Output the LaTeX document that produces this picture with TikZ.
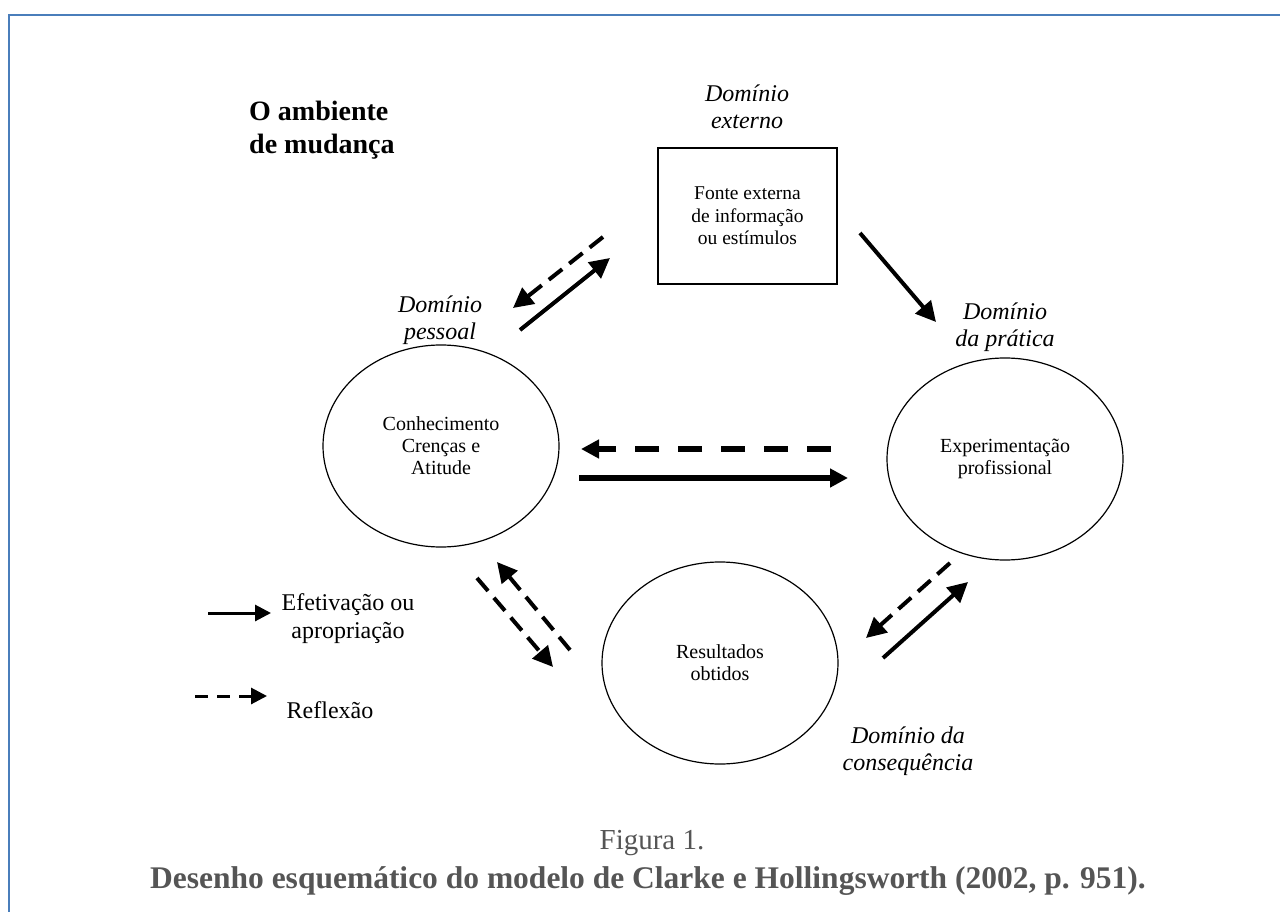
\documentclass[tikz,border=0pt]{standalone}
\usepackage{fontspec}
\setmainfont{Liberation Serif}
\usetikzlibrary{arrows.meta,shapes.geometric}
\definecolor{frameblue}{RGB}{74,126,187}
\definecolor{capgray}{RGB}{85,85,85}
\begin{document}
\begin{tikzpicture}[x=1pt,y=-1pt,
  ell/.style={draw,ellipse,line width=1.2pt,minimum width=236pt,minimum height=202pt,inner sep=0pt,align=center,font=\fontsize{20}{22}\selectfont},
  srcbox/.style={draw,rectangle,line width=1.3pt,minimum width=179pt,minimum height=136pt,inner sep=0pt,align=center,font=\fontsize{19.5}{22.5}\selectfont},
  dlabel/.style={inner sep=0pt,align=center,font=\fontsize{24}{27}\selectfont\itshape},
  legtext/.style={inner sep=0pt,align=center,font=\fontsize{24}{28}\selectfont},
  solidarr/.style={line width=4pt,-{Triangle[length=20pt,width=20pt]}},
  dasharr/.style={line width=4pt,dash pattern=on 17pt off 9pt,-{Triangle[length=20pt,width=20pt]}},
  hsolid/.style={line width=6pt,-{Triangle[length=18pt,width=18pt]}},
  hdash/.style={line width=6pt,dash pattern=on 24pt off 19pt,-{Triangle[length=18pt,width=18pt]}},
  legsolid/.style={line width=3pt,-{Triangle[length=16pt,width=16pt]}},
  legdash/.style={line width=3pt,dash pattern=on 13pt off 9pt,-{Triangle[length=16pt,width=16pt]}}
]
\useasboundingbox (0,0) rectangle (1280,912);
% frame
\draw[frameblue,line width=2.5pt] (9,912) -- (9,15) -- (1280,15);

% title
\node[anchor=west,inner sep=0pt,align=left,font=\fontsize{28}{33}\selectfont\bfseries] (title) at (249,130) {O ambiente\\de mudança};

% external source
\node[dlabel] (extlab) at (747,107) {Domínio\\externo};
\node[srcbox] (src) at (747.5,216) {Fonte externa\\de informação\\ou estímulos};

% ellipses
\node[ell] (know) at (441,446) {Conhecimento\\Crenças e\\Atitude};
\node[ell] (exp) at (1005,459) {Experimentação\\profissional};
\node[ell] (res) at (720,663) {Resultados\\obtidos};

% domain labels
\node[dlabel] (perslab) at (440,320) {Domínio\\pessoal};
\node[dlabel] (praclab) at (1005,327) {Domínio\\da prática};
\node[dlabel] (conslab) at (908,751) {Domínio da\\consequência};

% arrow endpoints
\coordinate (a1s) at (603,237); \coordinate (a1e) at (513,308);
\coordinate (a2s) at (520,330); \coordinate (a2e) at (610,258);
\coordinate (a3s) at (860,233); \coordinate (a3e) at (936,322);
\coordinate (a4s) at (831,449); \coordinate (a4e) at (581,449);
\coordinate (a5s) at (579,478); \coordinate (a5e) at (848,478);
\coordinate (a6s) at (950,563); \coordinate (a6e) at (866,638);
\coordinate (a7s) at (883,658); \coordinate (a7e) at (968,582);
\coordinate (a8s) at (570,650); \coordinate (a8e) at (497,562);
\coordinate (a9s) at (477,578); \coordinate (a9e) at (553,667);

\draw[dasharr] (a1s) -- (a1e);
\draw[solidarr] (a2s) -- (a2e);
\draw[solidarr] (a3s) -- (a3e);
\draw[hdash] (a4s) -- (a4e);
\draw[hsolid] (a5s) -- (a5e);
\draw[dasharr] (a6s) -- (a6e);
\draw[solidarr] (a7s) -- (a7e);
\draw[dasharr] (a8s) -- (a8e);
\draw[dasharr] (a9s) -- (a9e);

% legend
\coordinate (l1s) at (208,613); \coordinate (l1e) at (271,613);
\coordinate (l2s) at (195,696); \coordinate (l2e) at (267,696);
\draw[legsolid] (l1s) -- (l1e);
\draw[legdash] (l2s) -- (l2e);
\node[legtext] (leg1) at (348,619) {Efetivação ou\\apropriação};
\node[legtext] (leg2) at (330,710) {Reflexão};

% caption
\node[inner sep=0pt,text=capgray,font=\fontsize{29}{32}\selectfont] (fig) at (652,843) {Figura 1.};
\node[inner sep=0pt,text=capgray,font=\fontsize{31.5}{34}\selectfont\bfseries] (cap) at (648,881.5) {Desenho esquemático do modelo de Clarke e Hollingsworth (2002, p. 951).};
\end{tikzpicture}
\end{document}
